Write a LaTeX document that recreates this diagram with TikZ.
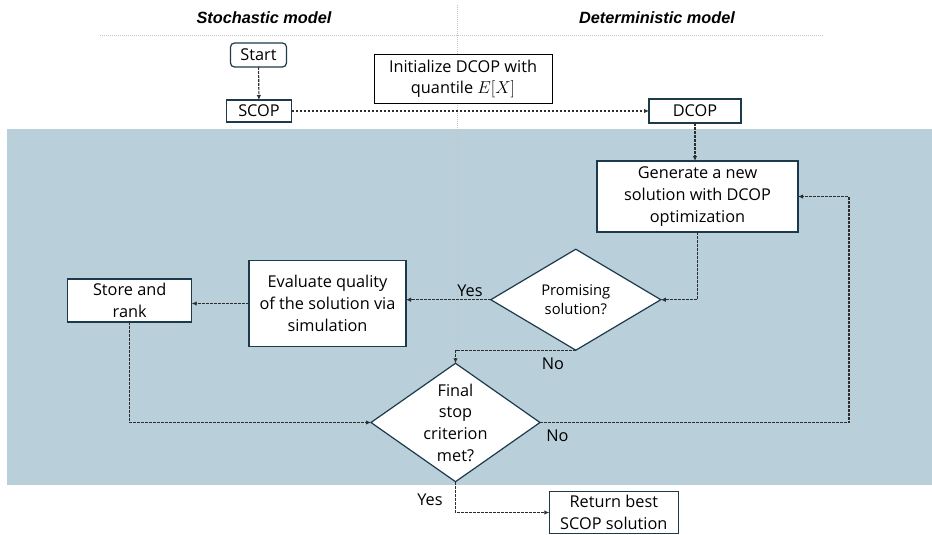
\documentclass[tikz,border=0pt]{standalone}
\usepackage{fontspec}
\setmainfont{Open Sans}
\newfontfamily\headfont{Liberation Sans}
\usetikzlibrary{arrows.meta,shapes.geometric}

\definecolor{bandblue}{HTML}{B9CFDA}
\definecolor{boxline}{HTML}{1C3A4C}
\definecolor{flowline}{HTML}{2E2E2E}
\definecolor{guide}{HTML}{C4C4C4}

\tikzset{
  procbox/.style={draw=boxline, line width=1.2pt, fill=white, inner sep=0pt, outer sep=0pt,
    align=center, font=\fontsize{16.3}{21.7}\selectfont},
  decision/.style={diamond, draw=boxline, line width=1.2pt, fill=white, inner sep=0pt, outer sep=0pt},
  dtext/.style={align=center, inner sep=0pt},
  flow/.style={draw=flowline, line width=1.1pt, dash pattern=on 2.8pt off 1.2pt,
    -{Latex[length=5pt,width=4.5pt]}},
  guideline/.style={draw=guide, line width=0.8pt, dash pattern=on 1pt off 1pt},
  heading/.style={font=\headfont\bfseries\itshape\fontsize{16.3}{18}\selectfont},
  lbl/.style={font=\fontsize{16.3}{18}\selectfont, inner sep=0pt}
}

\begin{document}
\begin{tikzpicture}[x=1pt,y=-1pt]
\useasboundingbox (0,0) rectangle (932,535);

% shaded optimisation loop area
\fill[bandblue] (7,129) rectangle (932,485);

% column headings and separators
\node[heading] (hstoch) at (264,18) {Stochastic model};
\node[heading] (hdet) at (657,18) {Deterministic model};
\draw[guideline] (100,35) -- (824,35);
\draw[guideline] (457,5) -- (457,350);

% process boxes
\node[procbox, rounded corners=4pt, minimum width=56pt, minimum height=24pt] (start) at (258.5,55) {Start};
\node[procbox, minimum width=65pt, minimum height=22pt] (scop) at (259,111) {SCOP};
\node[procbox, draw=black, line width=1pt, minimum width=178pt, minimum height=49pt] (init) at (463,79) {Initialize DCOP with\\quantile $E[X]$};
\node[procbox, minimum width=92pt, minimum height=24pt] (dcop) at (695,111) {DCOP};
\node[procbox, minimum width=201pt, minimum height=71pt] (gen) at (697.5,196.5) {Generate a new\\solution with DCOP\\optimization};
\node[procbox, minimum width=157pt, minimum height=86pt] (eval) at (327.5,303.5) {Evaluate quality\\of the solution via\\simulation};
\node[procbox, minimum width=124pt, minimum height=43pt] (store) at (129.7,300.5) {Store and\\rank};
\node[procbox, minimum width=129pt, minimum height=41.5pt] (ret) at (613.8,512.5) {Return best\\SCOP solution};

% decisions
\node[decision, minimum width=170pt, minimum height=101pt] (prom) at (575.8,299.7) {};
\node[dtext, font=\fontsize{14.8}{19}\selectfont] (promtxt) at (575.8,299.7) {Promising\\solution?};
\node[decision, minimum width=169pt, minimum height=118.4pt] (final) at (455.5,422.5) {};
\node[dtext, font=\fontsize{16.3}{21.7}\selectfont] (finaltxt) at (455.5,422.5) {Final\\stop\\criterion\\met?};

% loop-back corner on the right
\coordinate (loopR) at (849,196.5);

% connectors
\draw[flow] (start) -- (scop);
\draw[flow] (scop.east) -- (dcop.west);
\draw[flow] (dcop.south) -- (dcop.south |- gen.north);
\draw[flow] (gen.south) |- (prom.east);
\draw[flow] (prom.west) -- (prom.west -| eval.east);
\draw[flow] (eval.west) -- (eval.west -| store.east);
\draw[flow] (store.south) |- (final.west);
\draw[flow] (prom.south) -| (final.north);
\draw[flow] (final.east) -| (loopR) -- (gen.east);
\draw[flow] (final.south) |- (ret.west);

% branch labels
\node[lbl] (yes1) at (470,291) {Yes};
\node[lbl] (no1) at (553,364) {No};
\node[lbl] (no2) at (557.5,435.5) {No};
\node[lbl] (yes2) at (430,500) {Yes};
\end{tikzpicture}
\end{document}
